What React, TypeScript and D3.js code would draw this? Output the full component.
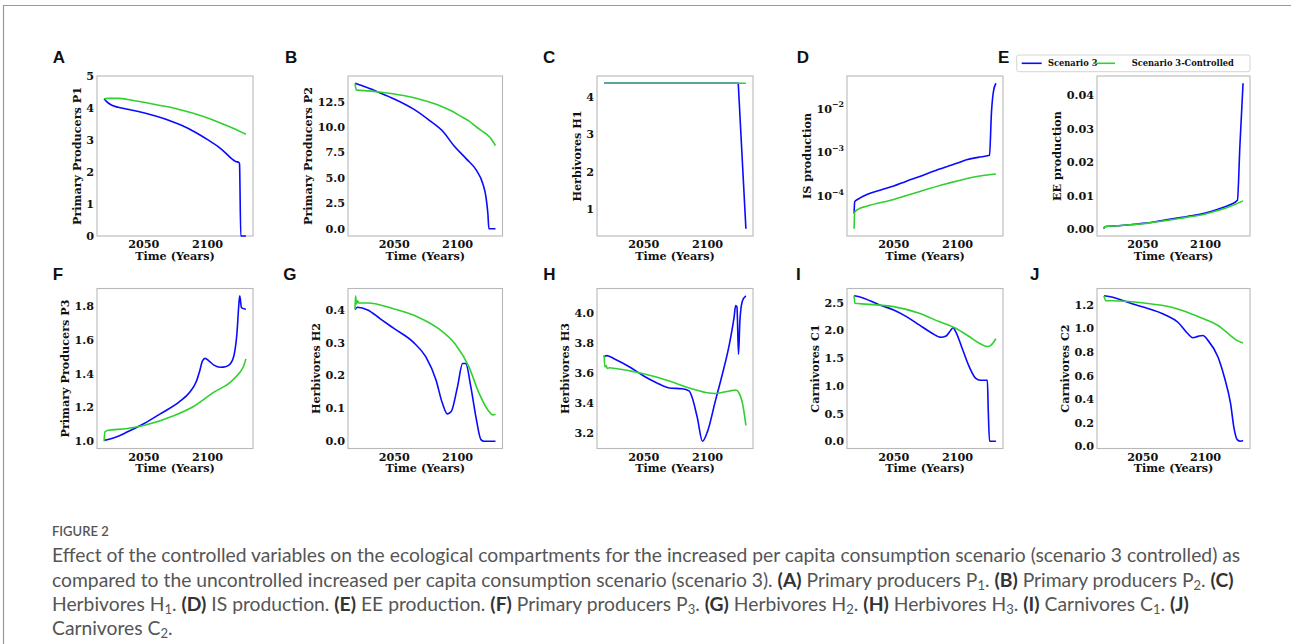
import * as d3 from "d3";

type Pt = [number, number];

// time span of every run
const timeSpan: Pt = [2019, 2130];
const xTicks = [2050, 2100];

// A: primary producers P1
const p1Scenario3: Pt[] = [[2019, 4.29], [2021, 4.2], [2024, 4.11], [2030, 4.02], [2040, 3.94], [2050, 3.85], [2060, 3.74], [2070, 3.61], [2080, 3.45], [2090, 3.25], [2100, 3.01], [2108, 2.8], [2114, 2.6], [2119, 2.41], [2122, 2.33], [2124.5, 2.3], [2125, 2.25], [2126, 0], [2130, 0]];
const p1Controlled: Pt[] = [[2019, 4.29], [2022, 4.3], [2030, 4.3], [2040, 4.25], [2050, 4.18], [2060, 4.1], [2070, 4.03], [2080, 3.93], [2090, 3.82], [2100, 3.69], [2110, 3.53], [2120, 3.37], [2130, 3.18]];

// B: primary producers P2
const p2Scenario3: Pt[] = [[2019, 14.3], [2028, 13.9], [2038, 13.4], [2050, 12.76], [2065, 11.78], [2078, 10.63], [2089, 9.49], [2097, 8.18], [2107, 6.87], [2115, 5.73], [2120, 4.42], [2122.5, 3.11], [2124, 1.47], [2124.8, 0], [2130, 0]];
const p2Controlled: Pt[] = [[2019, 14.3], [2020, 13.65], [2030, 13.55], [2041, 13.4], [2050, 13.25], [2065, 12.9], [2075, 12.55], [2086, 12.1], [2095, 11.6], [2102, 11.1], [2109, 10.6], [2115, 10.0], [2120, 9.55], [2125.5, 9.0], [2130, 8.18]];

// C: herbivores H1
const h1Scenario3: Pt[] = [[2019, 4.37], [2124, 4.37], [2130, 0.48]];
const h1Controlled: Pt[] = [[2019, 4.37], [2130, 4.37]];

// D: IS production (log axis)
const isScenario3: Pt[] = [[2019, 4e-5], [2019.5, 7.5e-5], [2022, 8.5e-5], [2029, 1.09e-4], [2040, 1.38e-4], [2050, 1.7e-4], [2060, 2.2e-4], [2071, 2.84e-4], [2081, 3.7e-4], [2092, 4.78e-4], [2100, 5.7e-4], [2107, 6.76e-4], [2116, 7.7e-4], [2125, 8.6e-4], [2126.5, 8e-3], [2128, 0.024], [2130, 0.038]];
const isControlled: Pt[] = [[2019, 1.8e-5], [2019.5, 4.3e-5], [2022, 5.0e-5], [2029, 5.9e-5], [2050, 8.4e-5], [2071, 1.3e-4], [2092, 1.94e-4], [2113, 2.75e-4], [2130, 3.2e-4]];

// E: EE production
const eeScenario3: Pt[] = [[2019, 0.0002], [2019.5, 0.0008], [2030, 0.0011], [2040, 0.0014], [2050, 0.0018], [2060, 0.0023], [2070, 0.0029], [2080, 0.0035], [2090, 0.0041], [2100, 0.0049], [2110, 0.006], [2120, 0.0074], [2125.5, 0.0087], [2127.5, 0.025], [2130, 0.0435]];
const eeControlled: Pt[] = [[2019, 0.0002], [2019.5, 0.0008], [2030, 0.0011], [2040, 0.0014], [2050, 0.0017], [2060, 0.0022], [2070, 0.0027], [2080, 0.0033], [2090, 0.0039], [2100, 0.0046], [2110, 0.0056], [2120, 0.0069], [2130, 0.0085]];

// F: primary producers P3
const p3Scenario3: Pt[] = [[2019, 1.005], [2023, 1.012], [2030, 1.03], [2037, 1.054], [2050, 1.103], [2063, 1.162], [2078, 1.234], [2086, 1.29], [2091, 1.35], [2094, 1.42], [2096, 1.475], [2098, 1.49], [2101, 1.475], [2105, 1.45], [2110, 1.437], [2114, 1.44], [2118, 1.46], [2121, 1.52], [2123, 1.64], [2124.5, 1.81], [2125.2, 1.86], [2126.5, 1.79], [2130, 1.78]];
const p3Controlled: Pt[] = [[2019, 1.0], [2019.6, 1.055], [2022, 1.065], [2036, 1.074], [2050, 1.093], [2074, 1.152], [2090, 1.21], [2105, 1.29], [2118, 1.35], [2125, 1.405], [2128, 1.44], [2130, 1.487]];

// G: herbivores H2
const h2Scenario3: Pt[] = [[2019, 0.4], [2021, 0.407], [2029, 0.399], [2039, 0.372], [2050, 0.342], [2065, 0.301], [2075, 0.256], [2083, 0.186], [2088, 0.116], [2092, 0.083], [2095, 0.09], [2100, 0.166], [2104, 0.236], [2106.5, 0.236], [2110.5, 0.166], [2114.5, 0.075], [2118.5, 0.005], [2121, 0], [2130, 0]];
const h2Controlled: Pt[] = [[2019, 0.4], [2019.4, 0.442], [2020.2, 0.417], [2021, 0.427], [2022, 0.42], [2029, 0.42], [2050, 0.402], [2069, 0.377], [2085, 0.342], [2098, 0.296], [2109, 0.226], [2117, 0.146], [2124, 0.095], [2128, 0.08], [2130, 0.082]];

// H: herbivores H3
const h3Scenario3: Pt[] = [[2019, 3.707], [2021, 3.716], [2028, 3.69], [2039, 3.64], [2050, 3.58], [2060, 3.535], [2070, 3.5], [2080, 3.495], [2085.5, 3.48], [2088, 3.435], [2092, 3.3], [2096, 3.144], [2100, 3.21], [2106, 3.41], [2111.5, 3.59], [2117, 3.79], [2120.7, 3.97], [2122, 4.05], [2123, 4.04], [2124.2, 3.725], [2125.3, 3.95], [2127.2, 4.08], [2130, 4.116]];
const h3Controlled: Pt[] = [[2019, 3.72], [2019.6, 3.64], [2020.5, 3.65], [2021.5, 3.63], [2023, 3.635], [2028, 3.63], [2050, 3.595], [2070, 3.546], [2085.5, 3.5], [2098.5, 3.47], [2106.5, 3.463], [2117, 3.48], [2122, 3.486], [2124.5, 3.468], [2127.5, 3.39], [2130, 3.25]];

// I: carnivores C1
const c1Scenario3: Pt[] = [[2019, 2.626], [2023, 2.61], [2039, 2.46], [2050, 2.37], [2060, 2.25], [2070, 2.1], [2080, 1.95], [2087, 1.876], [2091, 1.9], [2094.5, 2.0], [2096.5, 2.05], [2098.5, 1.98], [2104, 1.65], [2109, 1.35], [2114, 1.14], [2118, 1.1], [2123.3, 1.1], [2124, 0.57], [2125, 0], [2130, 0]];
const c1Controlled: Pt[] = [[2019, 2.626], [2019.6, 2.49], [2028, 2.476], [2050, 2.43], [2070, 2.31], [2085.5, 2.16], [2098.5, 2.04], [2109, 1.89], [2117, 1.77], [2122, 1.715], [2124, 1.71], [2126, 1.73], [2130, 1.85]];

// J: carnivores C2
const c2Scenario3: Pt[] = [[2019, 1.278], [2024, 1.27], [2042, 1.208], [2051, 1.18], [2068, 1.115], [2078, 1.053], [2086, 0.955], [2090, 0.921], [2094, 0.933], [2098, 0.941], [2102, 0.899], [2110, 0.758], [2115, 0.59], [2120, 0.365], [2123, 0.14], [2125.3, 0.056], [2128, 0.042], [2130, 0.048]];
const c2Controlled: Pt[] = [[2019, 1.278], [2020.5, 1.236], [2026, 1.236], [2051, 1.216], [2073, 1.18], [2089, 1.124], [2099, 1.08], [2110, 1.025], [2120, 0.94], [2125, 0.899], [2130, 0.876]];

const legendLabels = ["Scenario 3", "Scenario 3-Controlled"];
const BLUE = "#0a0aff";
const GREEN = "#2fd02f";

type PanelCfg = {
  letter: string;
  label: string;
  blue: Pt[];
  green: Pt[];
  yTicks: number[];
  fmt: (v: number) => string;
  log?: boolean;
  domain?: [number, number];
  straight?: boolean;
};

const panels: PanelCfg[] = [
  { letter: "A", label: "Primary Producers P1", blue: p1Scenario3, green: p1Controlled, yTicks: [0, 1, 2, 3, 4, 5], fmt: d3.format("d"), domain: [0, 5] },
  { letter: "B", label: "Primary Producers P2", blue: p2Scenario3, green: p2Controlled, yTicks: [0, 2.5, 5, 7.5, 10, 12.5], fmt: d3.format(".1f") },
  { letter: "C", label: "Herbivores H1", blue: h1Scenario3, green: h1Controlled, yTicks: [1, 2, 3, 4], fmt: d3.format("d"), straight: true },
  { letter: "D", label: "IS production", blue: isScenario3, green: isControlled, yTicks: [1e-4, 1e-3, 1e-2], fmt: (v) => String(Math.round(Math.log10(v))), log: true },
  { letter: "E", label: "EE production", blue: eeScenario3, green: eeControlled, yTicks: [0, 0.01, 0.02, 0.03, 0.04], fmt: d3.format(".2f") },
  { letter: "F", label: "Primary Producers P3", blue: p3Scenario3, green: p3Controlled, yTicks: [1.0, 1.2, 1.4, 1.6, 1.8], fmt: d3.format(".1f") },
  { letter: "G", label: "Herbivores H2", blue: h2Scenario3, green: h2Controlled, yTicks: [0, 0.1, 0.2, 0.3, 0.4], fmt: d3.format(".1f") },
  { letter: "H", label: "Herbivores H3", blue: h3Scenario3, green: h3Controlled, yTicks: [3.2, 3.4, 3.6, 3.8, 4.0], fmt: d3.format(".1f") },
  { letter: "I", label: "Carnivores C1", blue: c1Scenario3, green: c1Controlled, yTicks: [0, 0.5, 1, 1.5, 2, 2.5], fmt: d3.format(".1f") },
  { letter: "J", label: "Carnivores C2", blue: c2Scenario3, green: c2Controlled, yTicks: [0, 0.2, 0.4, 0.6, 0.8, 1.0, 1.2], fmt: d3.format(".1f") },
];

// layout
const colLeft = [97, 348, 597, 847, 1097];
const colWidth = [156, 154.5, 156, 156, 153];
const rowTop = [76, 288.5];
const rowHeight = [160, 160];
const letterX = [52.7, 285, 543, 796.7, 998, 52.7, 283.3, 543.3, 796, 1030];
const letterY = [62.7, 280];

const SERIF = "'DejaVu Serif', serif";
const FS = 11.2;

function textW(s: string, fs: number) {
  let w = 0;
  for (const c of s) w += c === "." ? 0.38 : c === "−" || c === "-" ? 0.838 : 0.696;
  return w * fs;
}

function padExtent(lo: number, hi: number): [number, number] {
  const m = (hi - lo) * 0.05;
  return [lo - m, hi + m];
}

function Panel({ cfg, i }: { cfg: PanelCfg; i: number }) {
  const row = i < 5 ? 0 : 1;
  const col = i % 5;
  const left = colLeft[col];
  const width = colWidth[col];
  const top = rowTop[row];
  const height = rowHeight[row];
  const bottom = top + height;

  const x = d3.scaleLinear().domain(padExtent(timeSpan[0], timeSpan[1])).range([left, left + width]);
  const all = [...cfg.blue, ...cfg.green];
  let y: any;
  if (cfg.log) {
    const lo = d3.min(all, (d) => Math.log10(d[1]))!;
    const hi = d3.max(all, (d) => Math.log10(d[1]))!;
    const [a, b] = padExtent(lo, hi);
    y = d3.scaleLog().domain([10 ** a, 10 ** b]).range([bottom, top]);
  } else {
    const dom = cfg.domain ?? padExtent(d3.min(all, (d) => d[1])!, d3.max(all, (d) => d[1])!);
    y = d3.scaleLinear().domain(dom).range([bottom, top]);
  }
  const line = d3
    .line<Pt>()
    .x((d) => x(d[0]))
    .y((d) => y(d[1]))
    .curve(cfg.straight ? d3.curveLinear : d3.curveMonotoneX);

  const tickW = cfg.log
    ? textW("10", FS) + textW("−2", FS * 0.7)
    : d3.max(cfg.yTicks, (t) => textW(cfg.fmt(t), FS))!;
  const labelX = left - 3 - tickW - 3.5 - 5.5;
  const midY = (top + bottom) / 2;

  return (
    <g>
      <text x={letterX[i]} y={letterY[row]} fontFamily="'Liberation Sans', Arial, sans-serif" fontWeight="bold" fontSize={17} fill="#111">
        {cfg.letter}
      </text>
      <rect x={left} y={top} width={width} height={height} fill="white" stroke="#b8b8b8" strokeWidth={1.1} />
      <path d={line(cfg.blue)!} fill="none" stroke={BLUE} strokeWidth={1.6} strokeLinejoin="round" />
      <path d={line(cfg.green)!} fill="none" stroke={GREEN} strokeWidth={1.6} strokeLinejoin="round" />
      {cfg.yTicks.map((t) => (
        <text key={t} x={left - 3} y={y(t)} textAnchor="end" dominantBaseline="central" fontFamily={SERIF} fontWeight="bold" fontSize={FS} fill="#111">
          {cfg.log ? (
            <>
              <tspan>10</tspan>
              <tspan fontSize={FS * 0.7} dy={-4.5}>{"−" + String(-Math.round(Math.log10(t)))}</tspan>
            </>
          ) : (
            cfg.fmt(t)
          )}
        </text>
      ))}
      {xTicks.map((t) => (
        <text key={t} x={x(t)} y={bottom + 12.3} textAnchor="middle" fontFamily={SERIF} fontWeight="bold" fontSize={FS} fill="#111">
          {t}
        </text>
      ))}
      <text x={left + width / 2} y={bottom + 23.5} textAnchor="middle" fontFamily={SERIF} fontWeight="bold" fontSize={FS} fill="#111">
        Time (Years)
      </text>
      <text
        transform={`translate(${labelX},${midY}) rotate(-90)`}
        textAnchor="middle"
        dominantBaseline="central"
        fontFamily={SERIF}
        fontWeight="bold"
        fontSize={FS}
        fill="#111"
      >
        {cfg.label}
      </text>
    </g>
  );
}

function Legend() {
  const fs = 8.3;
  return (
    <g fontFamily={SERIF} fontWeight="bold" fontSize={fs} fill="#111">
      <rect x={1016.7} y={55} width={233.3} height={16.7} rx={2} fill="white" stroke="#d4d4d4" strokeWidth={1} />
      <line x1={1021.7} x2={1041.7} y1={63.3} y2={63.3} stroke={BLUE} strokeWidth={1.6} />
      <text x={1048} y={63.3} dominantBaseline="central">{legendLabels[0]}</text>
      <line x1={1093} x2={1115} y1={63.3} y2={63.3} stroke={GREEN} strokeWidth={1.6} />
      <text x={1131.7} y={63.3} dominantBaseline="central">{legendLabels[1]}</text>
    </g>
  );
}

type Seg = [string, "" | "b" | "s"];
const captionLines: Seg[][] = [
  [["Effect of the controlled variables on the ecological compartments for the increased per capita consumption scenario (scenario 3 controlled) as", ""]],
  [
    ["compared to the uncontrolled increased per capita consumption scenario (scenario 3). ", ""],
    ["(A)", "b"], [" Primary producers P", ""], ["1", "s"], [". ", ""],
    ["(B)", "b"], [" Primary producers P", ""], ["2", "s"], [". ", ""],
    ["(C)", "b"],
  ],
  [
    ["Herbivores H", ""], ["1", "s"], [". ", ""],
    ["(D)", "b"], [" IS production. ", ""],
    ["(E)", "b"], [" EE production. ", ""],
    ["(F)", "b"], [" Primary producers P", ""], ["3", "s"], [". ", ""],
    ["(G)", "b"], [" Herbivores H", ""], ["2", "s"], [". ", ""],
    ["(H)", "b"], [" Herbivores H", ""], ["3", "s"], [". ", ""],
    ["(I)", "b"], [" Carnivores C", ""], ["1", "s"], [". ", ""],
    ["(J)", "b"],
  ],
  [["Carnivores C", ""], ["2", "s"], [".", ""]],
];

function Caption() {
  const lineY = [562, 587, 611, 635];
  return (
    <g fontFamily="Lato, 'Open Sans', sans-serif" fill="#555" style={{ whiteSpace: "pre" }}>
      <text x={52} y={536} fontSize={13} fontWeight={600} fill="#555">FIGURE 2</text>
      {captionLines.map((segs, li) => (
        <text key={li} x={52} y={lineY[li]} fontSize={19.3}>
          {segs.map(([s, k], j) =>
            k === "b" ? (
              <tspan key={j} fontWeight="bold" fill="#333">{s}</tspan>
            ) : k === "s" ? (
              <tspan key={j} fontSize={13} baselineShift={-3}>{s}</tspan>
            ) : (
              <tspan key={j}>{s}</tspan>
            )
          )}
        </text>
      ))}
    </g>
  );
}

export default function App() {
  return (
    <svg width={1291} height={644} style={{ position: "absolute", left: 0, top: 0, background: "white" }}>
      <rect x={0} y={0} width={1291} height={644} fill="white" />
      <line x1={3} x2={1291} y1={5.5} y2={5.5} stroke="#999" strokeWidth={1.2} />
      <line x1={3.5} x2={3.5} y1={5} y2={644} stroke="#999" strokeWidth={1.2} />
      {panels.map((p, i) => (
        <Panel key={p.letter} cfg={p} i={i} />
      ))}
      <Legend />
      <Caption />
    </svg>
  );
}
